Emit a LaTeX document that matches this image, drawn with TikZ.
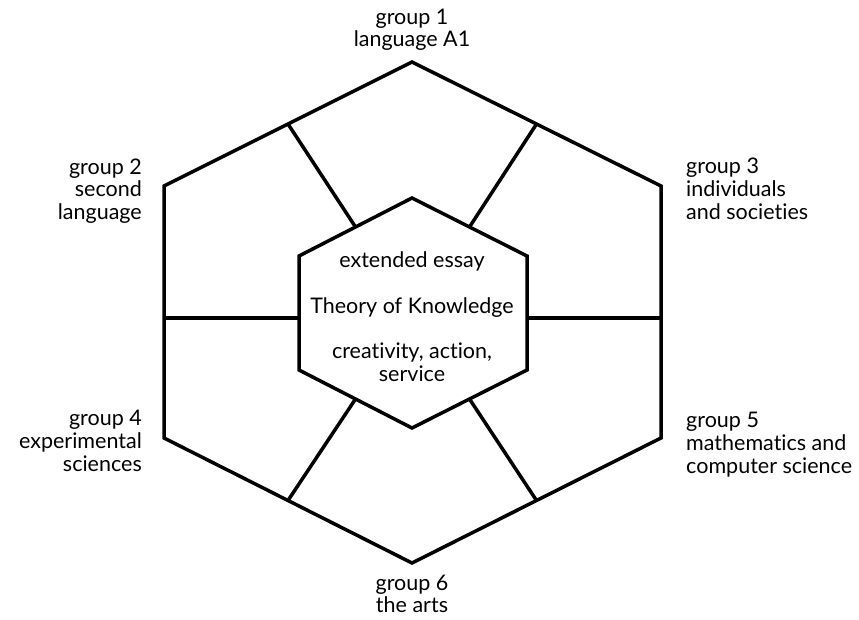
\documentclass[tikz,border=0pt]{standalone}
\usepackage{fontspec}
\setmainfont{Lato}[Ligatures=NoCommon]
\usetikzlibrary{calc}
\begin{document}
\begin{tikzpicture}[x=1pt,y=-1pt,
  hexline/.style={line width=3.5pt,line join=miter,black},
  lbl/.style={font=\fontsize{21.5}{23}\selectfont,inner sep=0pt,text=black},
  lc/.style={lbl,anchor=base},
  lr/.style={lbl,anchor=base east},
  ll/.style={lbl,anchor=base west}]
\useasboundingbox (0,0) rectangle (859,620);
% outer hexagon
\coordinate (O1) at (412,62);
\coordinate (O2) at (661,186);
\coordinate (O3) at (661,438);
\coordinate (O4) at (412,563);
\coordinate (O5) at (164,438);
\coordinate (O6) at (164,186);
% inner hexagon
\coordinate (I1) at (412,198);
\coordinate (I2) at (527,256);
\coordinate (I3) at (527,370);
\coordinate (I4) at (412,428);
\coordinate (I5) at (299,370);
\coordinate (I6) at (299,256);
% spoke ends on the side edges
\coordinate (OL) at (164,318);
\coordinate (IL) at (299,318);
\coordinate (OR) at (661,318);
\coordinate (IR) at (527,318);
\draw[hexline] (O1) -- (O2) -- (O3) -- (O4) -- (O5) -- (O6) -- cycle;
\draw[hexline] (I1) -- (I2) -- (I3) -- (I4) -- (I5) -- (I6) -- cycle;
% spokes
\draw[hexline] ($(O6)!0.5!(O1)$) -- ($(I6)!0.5!(I1)$);
\draw[hexline] ($(O1)!0.5!(O2)$) -- ($(I1)!0.5!(I2)$);
\draw[hexline] (OR) -- (IR);
\draw[hexline] ($(O3)!0.5!(O4)$) -- ($(I3)!0.5!(I4)$);
\draw[hexline] ($(O4)!0.5!(O5)$) -- ($(I4)!0.5!(I5)$);
\draw[hexline] (OL) -- (IL);
% outer labels
\node[lc] (g1a) at (412,25) {group 1};
\node[lc] (g1b) at (412,47) {language A1};
\node[lr] (g2a) at (142,175) {group 2};
\node[lr] (g2b) at (142,197) {second};
\node[lr] (g2c) at (142,220) {language};
\node[ll] (g3a) at (686,174) {group 3};
\node[ll] (g3b) at (686,197) {individuals};
\node[ll] (g3c) at (686,220) {and societies};
\node[lr] (g4a) at (142,425) {group 4};
\node[lr] (g4b) at (142,448) {experimental};
\node[lr] (g4c) at (142,471) {sciences};
\node[ll] (g5a) at (686,427) {group 5};
\node[ll] (g5b) at (686,450) {mathematics and};
\node[ll] (g5c) at (686,473) {computer science};
\node[lc] (g6a) at (412,590) {group 6};
\node[lc] (g6b) at (412,612) {the arts};
% inner labels
\node[lc] (ee) at (412,268) {extended essay};
\node[lc] (tok) at (412,313) {Theory of Knowledge};
\node[lc] (cas1) at (412,358) {creativity, action,};
\node[lc] (cas2) at (412,381) {service};
\end{tikzpicture}
\end{document}
